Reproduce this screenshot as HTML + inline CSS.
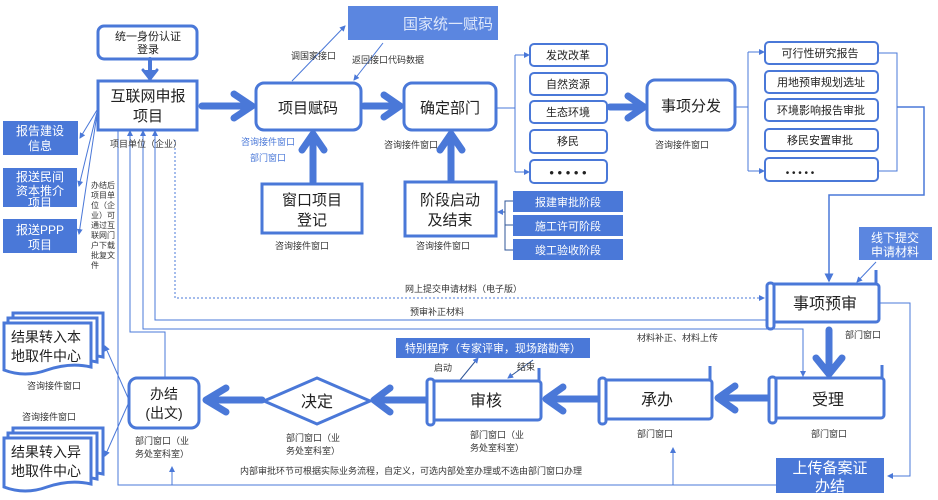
<!DOCTYPE html>
<html><head><meta charset="utf-8"><style>
html,body{margin:0;padding:0;background:#fff;}
svg{display:block;font-family:"Liberation Sans","Noto Sans CJK SC",sans-serif;}
</style></head><body>
<svg width="938" height="500" viewBox="0 0 938 500" xmlns="http://www.w3.org/2000/svg">
<defs>
<marker id="a" markerWidth="6" markerHeight="6" refX="5" refY="3" orient="auto"><path d="M0,0 L6,3 L0,6 z" fill="#4a78d8"/></marker>
</defs>
<g fill="none" stroke="#4a78d8">
<!-- thin connectors -->
<g stroke-width="1">
<line x1="97" y1="110" x2="80" y2="138" marker-end="url(#a)"/>
<line x1="97" y1="112" x2="79" y2="186" marker-end="url(#a)"/>
<line x1="97" y1="114" x2="79" y2="234" marker-end="url(#a)"/>
<line x1="292" y1="81" x2="345" y2="26" marker-end="url(#a)"/>
<line x1="383" y1="43" x2="354" y2="80" marker-end="url(#a)"/>
<polyline points="496,108 515,108"/>
<line x1="515" y1="55" x2="515" y2="172"/>
<line x1="515" y1="55" x2="529" y2="55" marker-end="url(#a)"/>
<line x1="515" y1="172" x2="529" y2="172" marker-end="url(#a)"/>
<polyline points="735,107 748,107"/>
<line x1="748" y1="52" x2="748" y2="171"/>
<line x1="748" y1="52" x2="764" y2="52" marker-end="url(#a)"/>
<line x1="748" y1="171" x2="764" y2="171" marker-end="url(#a)"/>
<polyline points="878,53 897,53 897,171 878,171"/>
<polyline points="897,107 924,107 924,195 829,195 829,281" stroke-width="1.5" marker-end="url(#a)"/>
<line x1="876" y1="262" x2="857" y2="282" marker-end="url(#a)"/>
<polyline points="513,201 505,201 505,250 513,250" stroke="#2f5597"/>
<line x1="505" y1="225" x2="513" y2="225" stroke="#2f5597"/>
<line x1="505" y1="212" x2="498" y2="212" stroke="#2f5597" marker-end="url(#a)"/>
<!-- left vertical lines -->
<polyline points="118,131 118,485 776,485"/>
<polyline points="165,378 165,332 130,332 130,131" marker-end="url(#a)"/>
<polyline points="803,377 803,329 143,329 143,131" marker-end="url(#a)"/>
<polyline points="768,320 155,320 155,131" marker-end="url(#a)"/>
<line x1="803" y1="340" x2="803" y2="376" marker-end="url(#a)"/>
<polyline points="175,140 175,298 764,298" stroke-dasharray="2,2" marker-end="url(#a)"/>
<polyline points="880,303 910,303 910,476 888,476" marker-end="url(#a)"/>
<line x1="172" y1="485" x2="172" y2="467" marker-end="url(#a)"/>
<polyline points="673,485 673,448" marker-end="url(#a)"/>
<line x1="129" y1="400" x2="105" y2="346" marker-end="url(#a)"/>
<line x1="129" y1="402" x2="105" y2="456" marker-end="url(#a)"/>
<line x1="460" y1="380" x2="478" y2="358" stroke="#2f5597" marker-end="url(#a)"/>
<line x1="533" y1="360" x2="508" y2="378" stroke="#2f5597" marker-end="url(#a)"/>
</g>
<!-- big arrows -->
<g stroke-width="7" stroke-linecap="round" stroke-linejoin="round">
<line x1="150" y1="59" x2="150" y2="78" stroke-width="4"/>
<polyline points="143,70 150,79 157,70" fill="#4a78d8" stroke-width="3"/>
<line x1="202" y1="106" x2="250" y2="106"/><polyline points="234,94 252,106 234,118"/>
<line x1="364" y1="106" x2="398" y2="106"/><polyline points="384,95 400,106 384,117"/>
<line x1="610" y1="107" x2="642" y2="107"/><polyline points="628,96 644,107 628,118"/>
<line x1="313" y1="182" x2="313" y2="136"/><polyline points="302,150 313,134 324,150"/>
<line x1="451" y1="180" x2="451" y2="136"/><polyline points="440,150 451,134 462,150"/>
<line x1="829" y1="330" x2="829" y2="372"/><polyline points="816,358 829,374 842,358"/>
<line x1="768" y1="398" x2="722" y2="398"/><polyline points="735,386 718,398 735,410"/>
<line x1="597" y1="399" x2="550" y2="399"/><polyline points="563,387 546,399 563,411"/>
<line x1="427" y1="400" x2="376" y2="400"/><polyline points="390,388 374,400 390,412"/>
<line x1="262" y1="400" x2="210" y2="400"/><polyline points="226,388 206,400 226,412"/>
</g>
<!-- boxes -->
<g stroke-width="3">
<rect x="98" y="26" width="99" height="33" rx="6"/>
<rect x="98" y="81" width="99" height="49"/>
<rect x="256" y="83" width="105" height="47" rx="8"/>
<rect x="404" y="83" width="92" height="47" rx="8"/>
<rect x="262" y="184" width="100" height="49"/>
<rect x="405" y="182" width="91" height="54"/>
<rect x="647" y="80" width="88" height="50" rx="8"/>
<rect x="129" y="378" width="70" height="50" rx="8"/>
<polygon points="264,401 317,378 370,401 317,424"/>
</g>
<g stroke-width="2">
<rect x="530" y="44" width="77" height="22" rx="4"/>
<rect x="530" y="73" width="77" height="22" rx="4"/>
<rect x="530" y="101" width="77" height="22" rx="4"/>
<rect x="530" y="130" width="77" height="23" rx="4"/>
<rect x="530" y="160" width="77" height="23" rx="4"/>
<rect x="765" y="42" width="113" height="22" rx="4"/>
<rect x="765" y="71" width="113" height="22" rx="4"/>
<rect x="765" y="99" width="113" height="22" rx="4"/>
<rect x="765" y="129" width="113" height="22" rx="4"/>
<rect x="765" y="158" width="113" height="23" rx="4"/>
</g>
<!-- scrolls -->
<g stroke-width="3">
<rect x="770" y="284" width="109" height="38" rx="3"/><rect x="767" y="283" width="7" height="46" rx="3" fill="#fff"/><line x1="876" y1="270" x2="876" y2="284"/>
<rect x="772" y="378" width="112" height="40" rx="3"/><rect x="769" y="377" width="7" height="46" rx="3" fill="#fff"/><line x1="882" y1="365" x2="882" y2="378"/>
<rect x="602" y="380" width="110" height="39" rx="3"/><rect x="599" y="378" width="7" height="46" rx="3" fill="#fff"/><line x1="710" y1="366" x2="710" y2="380"/>
<rect x="430" y="381" width="111" height="39" rx="3"/><rect x="427" y="379" width="7" height="46" rx="3" fill="#fff"/><line x1="539" y1="368" x2="539" y2="381"/>
</g>
<!-- documents -->
<g stroke-width="3" fill="#fff">
<path d="M13,313 H103 V357 Q80,352 58,360 Q35,368 13,360 Z"/>
<path d="M8,318 H97 V362 Q75,357 52,365 Q30,373 8,365 Z"/>
<path d="M4,323 H91 V367 Q70,362 47,370 Q25,378 4,370 Z"/>
<path d="M13,428 H103 V474 Q80,469 58,477 Q35,485 13,477 Z"/>
<path d="M8,433 H97 V479 Q75,474 52,482 Q30,490 8,482 Z"/>
<path d="M4,438 H91 V484 Q70,479 47,487 Q25,495 4,487 Z"/>
</g>
</g>
<!-- filled boxes -->
<g fill="#4a78d8">
<rect x="3" y="121" width="75" height="34"/>
<rect x="3" y="168" width="74" height="39"/>
<rect x="3" y="219" width="74" height="34"/>
<rect x="348" y="6" width="150" height="34" fill="#5b86e0"/>
<rect x="513" y="191" width="110" height="21"/>
<rect x="513" y="215" width="110" height="21"/>
<rect x="513" y="239" width="110" height="21"/>
<rect x="859" y="227" width="73" height="33" fill="#5b86e0"/>
<rect x="396" y="338" width="194" height="20"/>
<rect x="776" y="458" width="108" height="35"/>
</g>
<g fill="#fff" text-anchor="middle">
<text x="40" y="135" font-size="12">报告建设</text><text x="40" y="150" font-size="12">信息</text>
<text x="40" y="181" font-size="12">报送民间</text><text x="40" y="195" font-size="12">资本推介</text><text x="40" y="207" font-size="12">项目</text>
<text x="40" y="234" font-size="12">报送PPP</text><text x="40" y="249" font-size="12">项目</text>
<text x="448" y="29" font-size="15" fill="#dfe8fb">国家统一赋码</text>
<text x="568" y="206" font-size="11">报建审批阶段</text>
<text x="568" y="230" font-size="11">施工许可阶段</text>
<text x="568" y="254" font-size="11">竣工验收阶段</text>
<text x="895" y="242" font-size="12">线下提交</text><text x="895" y="256" font-size="12">申请材料</text>
<text x="493" y="352" font-size="11">特别程序（专家评审，现场踏勘等）</text>
<text x="830" y="473" font-size="15">上传备案证</text><text x="830" y="491" font-size="15">办结</text>
</g>
<g fill="#222" text-anchor="middle">
<text x="148" y="40" font-size="11">统一身份认证</text><text x="148" y="53" font-size="11">登录</text>
<text x="148" y="101" font-size="15">互联网申报</text><text x="148" y="121" font-size="15">项目</text>
<text x="308" y="113" font-size="15">项目赋码</text>
<text x="450" y="113" font-size="15">确定部门</text>
<text x="312" y="205" font-size="15">窗口项目</text><text x="312" y="225" font-size="15">登记</text>
<text x="450" y="205" font-size="15">阶段启动</text><text x="450" y="225" font-size="15">及结束</text>
<text x="691" y="111" font-size="15">事项分发</text>
<text x="568" y="59" font-size="11">发改改革</text>
<text x="568" y="88" font-size="11">自然资源</text>
<text x="568" y="116" font-size="11">生态环境</text>
<text x="568" y="145" font-size="11">移民</text>
<text x="568" y="177" font-size="13">• • • • •</text>
<text x="820" y="57" font-size="11">可行性研究报告</text>
<text x="821" y="86" font-size="11">用地预审规划选址</text>
<text x="821" y="114" font-size="11">环境影响报告审批</text>
<text x="820" y="144" font-size="11">移民安置审批</text>
<text x="800" y="176" font-size="10">• • • • •</text>
<text x="825" y="309" font-size="16">事项预审</text>
<text x="828" y="405" font-size="16">受理</text>
<text x="657" y="405" font-size="16">承办</text>
<text x="486" y="406" font-size="16">审核</text>
<text x="317" y="407" font-size="16">决定</text>
<text x="164" y="399" font-size="14">办结</text><text x="164" y="418" font-size="14">(出文)</text>
<text x="46" y="342" font-size="14">结果转入本</text><text x="46" y="361" font-size="14">地取件中心</text>
<text x="46" y="457" font-size="14">结果转入异</text><text x="46" y="476" font-size="14">地取件中心</text>
</g>
<g fill="#333" font-size="9">
<text x="291" y="59">调国家接口</text>
<text x="352" y="63">返回接口代码数据</text>
<text x="110" y="147">项目单位（企业）</text>
<text x="384" y="148">咨询接件窗口</text>
<text x="655" y="148">咨询接件窗口</text>
<text x="275" y="249">咨询接件窗口</text>
<text x="416" y="249">咨询接件窗口</text>
<text x="405" y="292">网上提交申请材料（电子版）</text>
<text x="410" y="315">预审补正材料</text>
<text x="637" y="341">材料补正、材料上传</text>
<text x="845" y="338">部门窗口</text>
<text x="434" y="371">启动</text>
<text x="517" y="370">结束</text>
<text x="637" y="437">部门窗口</text>
<text x="811" y="437">部门窗口</text>
<text x="470" y="438">部门窗口（业</text><text x="470" y="451">务处室科室）</text>
<text x="286" y="441">部门窗口（业</text><text x="286" y="454">务处室科室）</text>
<text x="135" y="444">部门窗口（业</text><text x="135" y="457">务处室科室）</text>
<text x="240" y="474">内部审批环节可根据实际业务流程，自定义，可选内部处室办理或不选由部门窗口办理</text>
<text x="27" y="389">咨询接件窗口</text>
<text x="22" y="420">咨询接件窗口</text>
<g font-size="8"><text x="91" y="188">办结后</text><text x="91" y="198">项目单</text><text x="91" y="208">位（企</text><text x="91" y="218">业）可</text><text x="91" y="228">通过互</text><text x="91" y="238">联网门</text><text x="91" y="248">户下载</text><text x="91" y="258">批复文</text><text x="91" y="268">件</text></g>
</g>
<g fill="#4a78d8" font-size="9"><text x="241" y="145">咨询接件窗口</text><text x="250" y="161">部门窗口</text></g>
</svg>
</body></html>
